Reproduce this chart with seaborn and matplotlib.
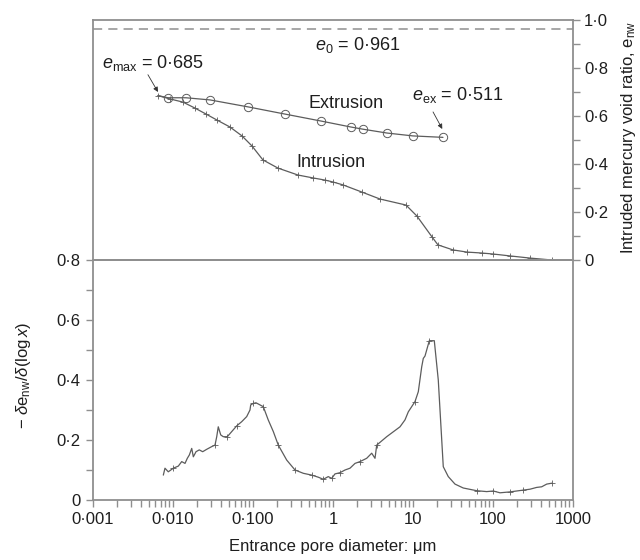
import matplotlib
matplotlib.use("Agg")
import matplotlib.pyplot as plt
import numpy as np
import pandas as pd
import seaborn as sns
from matplotlib.ticker import FixedLocator, FixedFormatter, LogLocator, NullFormatter

# ---------------- data ----------------
# Intrusion curve (entrance pore diameter in um, intruded void ratio)
intr_d = [0.00649, 0.00918, 0.0133, 0.0188, 0.0259, 0.0355, 0.0516, 0.0729, 0.0972, 0.133,
          0.205, 0.365, 0.562, 0.794, 1.0, 1.33, 2.30, 3.87, 8.17, 11.2, 17.3, 20.5, 31.6,
          47.3, 72.9, 100, 163, 290, 546]
intr_e = [0.685, 0.671, 0.658, 0.633, 0.608, 0.583, 0.554, 0.517, 0.475, 0.417,
          0.383, 0.354, 0.342, 0.333, 0.325, 0.313, 0.283, 0.254, 0.229, 0.183, 0.096, 0.063, 0.042,
          0.033, 0.029, 0.025, 0.017, 0.008, 0.0]

# Extrusion curve
ext_d = [0.00649, 0.00866, 0.0145, 0.0290, 0.0866, 0.251, 0.708, 1.68, 2.37, 4.73, 10.0, 23.7]
ext_e = [0.685, 0.676, 0.676, 0.667, 0.638, 0.608, 0.579, 0.554, 0.545, 0.529, 0.517, 0.511]

# Pore size density  -de_nw/d(log x)
der_d = [0.00757, 0.00794, 0.00873, 0.0101, 0.01165, 0.01285, 0.01413, 0.0151, 0.0160, 0.01714,
         0.01795, 0.0194, 0.0213, 0.0235, 0.0264, 0.0305, 0.0335, 0.0352, 0.0368, 0.0395,
         0.0425, 0.0477, 0.0542, 0.0625, 0.0722, 0.0834, 0.0917, 0.0936, 0.1009, 0.109,
         0.1165, 0.1345, 0.155, 0.1795, 0.207, 0.264, 0.335, 0.4255, 0.542, 0.655,
         0.757, 0.873, 0.963, 1.059, 1.223, 1.413, 1.631, 1.884, 2.175, 2.637,
         3.046, 3.35, 3.52, 4.69, 6.88, 7.94, 8.74, 10.59, 11.65, 12.85,
         13.45, 14.13, 14.83, 15.99, 18.46, 20.7, 23.9, 27.6, 33.5, 42.5,
         62.5, 83.4, 100.9, 122.3, 163, 239, 290, 352, 406, 469, 542]
der_v = [0.083, 0.106, 0.094, 0.106, 0.113, 0.128, 0.122, 0.139, 0.150, 0.172,
         0.144, 0.161, 0.167, 0.161, 0.169, 0.178, 0.183, 0.211, 0.244, 0.217,
         0.211, 0.211, 0.228, 0.247, 0.261, 0.278, 0.300, 0.317, 0.322, 0.324,
         0.320, 0.311, 0.267, 0.228, 0.183, 0.133, 0.100, 0.089, 0.083, 0.076,
         0.069, 0.078, 0.072, 0.087, 0.091, 0.100, 0.106, 0.122, 0.128, 0.139,
         0.156, 0.139, 0.183, 0.211, 0.244, 0.267, 0.294, 0.328, 0.361, 0.444,
         0.472, 0.480, 0.500, 0.531, 0.531, 0.400, 0.111, 0.078, 0.053, 0.040,
         0.031, 0.028, 0.030, 0.024, 0.027, 0.033, 0.036, 0.042, 0.044, 0.053, 0.056]
der_marks = [3, 16, 21, 23, 28, 31, 34, 36, 38, 40, 42, 44, 48, 52, 57, 63, 70, 72, 74, 75, 80]

e0 = 0.961
e_max = 0.685
e_ex = 0.511

x_ticks = [0.001, 0.01, 0.1, 1, 10, 100, 1000]
x_labels = ["0·001", "0·010", "0·100", "1", "10", "100", "1000"]
top_yticks = [0, 0.2, 0.4, 0.6, 0.8, 1.0]
top_ylabels = ["0", "0·2", "0·4", "0·6", "0·8", "1·0"]
bot_yticks = [0, 0.2, 0.4, 0.6, 0.8]
bot_ylabels = ["0", "0·2", "0·4", "0·6", "0·8"]

# ---------------- style ----------------
sns.set_theme(style="white")
plt.rcParams["font.family"] = ["Liberation Sans", "DejaVu Sans"]
plt.rcParams["mathtext.fontset"] = "custom"
plt.rcParams["mathtext.rm"] = "Liberation Sans"
plt.rcParams["mathtext.it"] = "Liberation Sans:italic"
plt.rcParams["mathtext.sf"] = "Liberation Sans"

LINE = "#5c5c5c"
SPINE = "#8f8f8f"
TEXT = "#1e1e1e"
FS_TICK = 12
FS_ANN = 13

fig = plt.figure(figsize=(6.4, 5.6), dpi=100)
W, H = 640, 560
ax_top = fig.add_axes([93 / W, 1 - 260 / H, 480 / W, 240 / H])
ax_bot = fig.add_axes([93 / W, 60 / H, 480 / W, 240 / H])

for ax in (ax_top, ax_bot):
    ax.set_xscale("log")
    ax.set_xlim(1e-3, 1e3)
    for s in ax.spines.values():
        s.set_color(SPINE)
        s.set_linewidth(1.3)
        s.set_visible(True)
    ax.set_facecolor("none")

# ---------- top panel ----------
df_int = pd.DataFrame({"d": intr_d, "e": intr_e})
df_ext = pd.DataFrame({"d": ext_d, "e": ext_e})
sns.lineplot(data=df_int, x="d", y="e", ax=ax_top, sort=False, estimator=None,
             color=LINE, lw=0.9, marker="+", ms=4, mew=0.6, mec=LINE)
sns.lineplot(data=df_ext, x="d", y="e", ax=ax_top, sort=False, estimator=None,
             color=LINE, lw=0.9, marker="o", ms=6, mfc="none", mew=0.7, mec=LINE,
             markevery=list(range(1, len(ext_d))))
ax_top.axhline(e0, color=SPINE, lw=1.1, ls=(0, (6, 4)))
ax_top.set_ylim(0, 1.0)
ax_top.yaxis.tick_right()
ax_top.yaxis.set_major_locator(FixedLocator(top_yticks))
ax_top.yaxis.set_major_formatter(FixedFormatter(top_ylabels))
ax_top.yaxis.set_minor_locator(FixedLocator([0.1, 0.3, 0.5, 0.7, 0.9]))
ax_top.tick_params(axis="y", which="both", right=True, left=False, direction="out",
                   length=5, width=1, color=SPINE, labelsize=FS_TICK, labelcolor=TEXT, pad=3)
ax_top.tick_params(axis="x", which="both", bottom=False, top=False, labelbottom=False)
ax_top.set_xlabel("")
ax_top.yaxis.set_label_position("right")
ax_top.set_ylabel(r"Intruded mercury void ratio, e$_{\rm nw}$", fontsize=FS_TICK,
                  color=TEXT, rotation=90, va="center", ha="center")
ax_top.yaxis.set_label_coords(1.115, 0.51)

ax_top.text(0.6, 0.896, r"$e_0$ = 0·961", fontsize=FS_ANN, color=TEXT, va="center", ha="left")
ax_top.text(0.0013, 0.821, r"$e_{\rm max}$ = 0·685", fontsize=FS_ANN, color=TEXT,
            va="center", ha="left")
ax_top.text(9.7, 0.6875, r"$e_{\rm ex}$ = 0·511", fontsize=FS_ANN, color=TEXT,
            va="center", ha="left")
ax_top.text(0.487, 0.654, "Extrusion", fontsize=FS_ANN, color=TEXT, va="center", ha="left")
ax_top.text(0.345, 0.408, "Intrusion", fontsize=FS_ANN, color=TEXT, va="center", ha="left")
arrow = dict(arrowstyle="-|>", lw=0.6, color="#333333", mutation_scale=7, shrinkA=0, shrinkB=0)
ax_top.annotate("", xy=(intr_d[0], e_max + 0.015), xytext=(0.00486, 0.772), arrowprops=arrow)
ax_top.annotate("", xy=(ext_d[-1] * 0.98, e_ex + 0.035), xytext=(17.8, 0.617), arrowprops=arrow)

# ---------- bottom panel ----------
df_der = pd.DataFrame({"d": der_d, "v": der_v})
sns.lineplot(data=df_der, x="d", y="v", ax=ax_bot, sort=False, estimator=None,
             color=LINE, lw=0.9, marker="+", ms=5, mew=0.6, mec=LINE, markevery=der_marks)
ax_bot.set_ylim(0, 0.8)
ax_bot.yaxis.set_major_locator(FixedLocator(bot_yticks))
ax_bot.yaxis.set_major_formatter(FixedFormatter(bot_ylabels))
ax_bot.yaxis.set_minor_locator(FixedLocator([0.1, 0.3, 0.5, 0.7]))
ax_bot.tick_params(axis="y", which="both", left=True, right=False, direction="out",
                   length=5, width=1, color=SPINE, labelsize=FS_TICK, labelcolor=TEXT, pad=4)
ax_bot.xaxis.set_major_locator(FixedLocator(x_ticks))
ax_bot.xaxis.set_major_formatter(FixedFormatter(x_labels))
ax_bot.xaxis.set_minor_locator(LogLocator(base=10, subs=np.arange(2, 10)))
ax_bot.xaxis.set_minor_formatter(NullFormatter())
ax_bot.tick_params(axis="x", which="both", bottom=True, top=False, direction="out",
                   length=5, width=1, color=SPINE, labelsize=FS_TICK, labelcolor=TEXT, pad=4)
ax_bot.set_xlabel("Entrance pore diameter: μm", fontsize=FS_TICK, color=TEXT, labelpad=8)
ax_bot.set_ylabel(r"$-\ \delta \mathrm{e}_{\mathrm{nw}}/\delta(\mathrm{log}\,x)$",
                  fontsize=FS_TICK, color=TEXT)
ax_bot.yaxis.set_label_coords(-0.125, 0.52)

fig.savefig("out.png", dpi=100)
